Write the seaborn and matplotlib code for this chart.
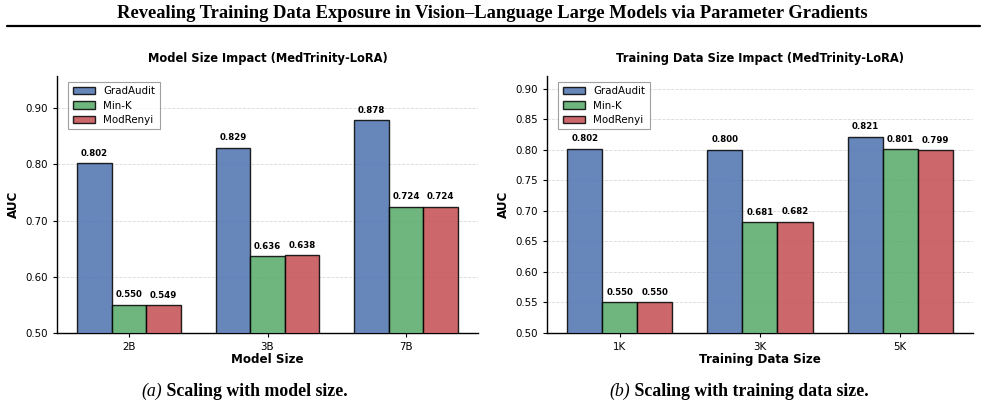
import matplotlib
matplotlib.use("Agg")
import matplotlib.pyplot as plt
import seaborn as sns
import pandas as pd
import numpy as np
from matplotlib.lines import Line2D
from matplotlib.ticker import FormatStrFormatter

# ---- data ----
methods = ["GradAudit", "Min-K", "ModRenyi"]
model_sizes = ["2B", "3B", "7B"]
model_gradaudit = [0.802, 0.829, 0.878]
model_mink = [0.550, 0.636, 0.724]
model_modrenyi = [0.549, 0.638, 0.724]

data_sizes = ["1K", "3K", "5K"]
data_gradaudit = [0.802, 0.800, 0.821]
data_mink = [0.550, 0.681, 0.801]
data_modrenyi = [0.550, 0.682, 0.799]

suptitle = "Revealing Training Data Exposure in Vision\u2013Language Large Models via Parameter Gradients"

def long_df(cats, a, b, c):
    rows = []
    for m, vals in zip(methods, [a, b, c]):
        for cat, v in zip(cats, vals):
            rows.append({"cat": cat, "Method": m, "AUC": v})
    return pd.DataFrame(rows)

df_model = long_df(model_sizes, model_gradaudit, model_mink, model_modrenyi)
df_data = long_df(data_sizes, data_gradaudit, data_mink, data_modrenyi)

sns.set_theme(style="ticks")
plt.rcParams['font.family'] = ['DejaVu Sans']
for k in ["text.color", "axes.labelcolor", "xtick.color", "ytick.color", "axes.edgecolor"]:
    plt.rcParams[k] = "black"

deep = sns.color_palette("deep")
palette = {"GradAudit": deep[0], "Min-K": deep[2], "ModRenyi": deep[3]}

fig = plt.figure(figsize=(9.85, 4.19), dpi=100)
ax1 = fig.add_axes([0.0579, 0.2053, 0.4274, 0.6134])
ax2 = fig.add_axes([0.5553, 0.2053, 0.4325, 0.6134])

panels = [
    (ax1, df_model, "Model Size Impact (MedTrinity-LoRA)", "Model Size", (0.5, 0.957), np.arange(0.5, 0.901, 0.1),
     "(a)", " Scaling with model size.", 244 / 985),
    (ax2, df_data, "Training Data Size Impact (MedTrinity-LoRA)", "Training Data Size", (0.5, 0.921), np.arange(0.5, 0.901, 0.05),
     "(b)", " Scaling with training data size.", 739 / 985),
]

for ax, df, title, xlabel, ylim, yticks, capa, capb, cx in panels:
    sns.barplot(data=df, x="cat", y="AUC", hue="Method", hue_order=methods,
                palette=palette, saturation=1, width=0.75, alpha=0.85,
                edgecolor="black", linewidth=1.0, errorbar=None, ax=ax, zorder=3)
    for cont in ax.containers:
        ax.bar_label(cont, fmt="%.3f", padding=4, fontsize=6.2, fontweight="bold")
    ax.set_ylim(*ylim)
    ax.set_xlim(-0.52, 2.52)
    ax.set_yticks(yticks)
    ax.yaxis.set_major_formatter(FormatStrFormatter("%.2f"))
    ax.tick_params(axis="both", labelsize=7.4, length=3, width=0.8)
    ax.grid(axis="y", linestyle="--", color="#d0d0d0", linewidth=0.6, alpha=0.8, zorder=0)
    ax.set_axisbelow(True)
    ax.set_title(title, fontsize=8.3, fontweight="bold", pad=10)
    ax.set_xlabel(xlabel, fontsize=8.6, fontweight="bold", labelpad=1)
    ax.set_ylabel("AUC", fontsize=8.6, fontweight="bold")
    sns.despine(ax=ax)
    for s in ["left", "bottom"]:
        ax.spines[s].set_linewidth(1.0)
        ax.spines[s].set_color("black")
    leg = ax.legend(loc="upper left", fontsize=7.4, frameon=True, fancybox=False,
                    edgecolor="#888888", borderpad=0.4, handlelength=2.2,
                    labelspacing=0.4, bbox_to_anchor=(0.015, 0.995))
    leg.get_frame().set_linewidth(0.8)

fig.canvas.draw()
renderer = fig.canvas.get_renderer()
for ax, df, title, xlabel, ylim, yticks, capa, capb, cx in panels:
    y = 1 - 391 / 419
    ta = fig.text(0, y, capa, ha="left", va="center", fontsize=12.8,
                  family="Liberation Serif", style="italic")
    tb = fig.text(0, y, capb, ha="left", va="center", fontsize=12.8,
                  family="Liberation Serif", fontweight="bold")
    wa = ta.get_window_extent(renderer).width / fig.bbox.width
    wb = tb.get_window_extent(renderer).width / fig.bbox.width
    x0 = cx - (wa + wb) / 2
    ta.set_x(x0)
    tb.set_x(x0 + wa)

fig.text(0.5, 1 - 13 / 419, suptitle, ha="center", va="center", fontsize=13.3,
         family="Liberation Serif", fontweight="bold")
fig.add_artist(Line2D([7 / 985, 980 / 985], [1 - 26 / 419, 1 - 26 / 419],
                      transform=fig.transFigure, color="black", linewidth=1.6))

fig.savefig("out.png", dpi=100)
